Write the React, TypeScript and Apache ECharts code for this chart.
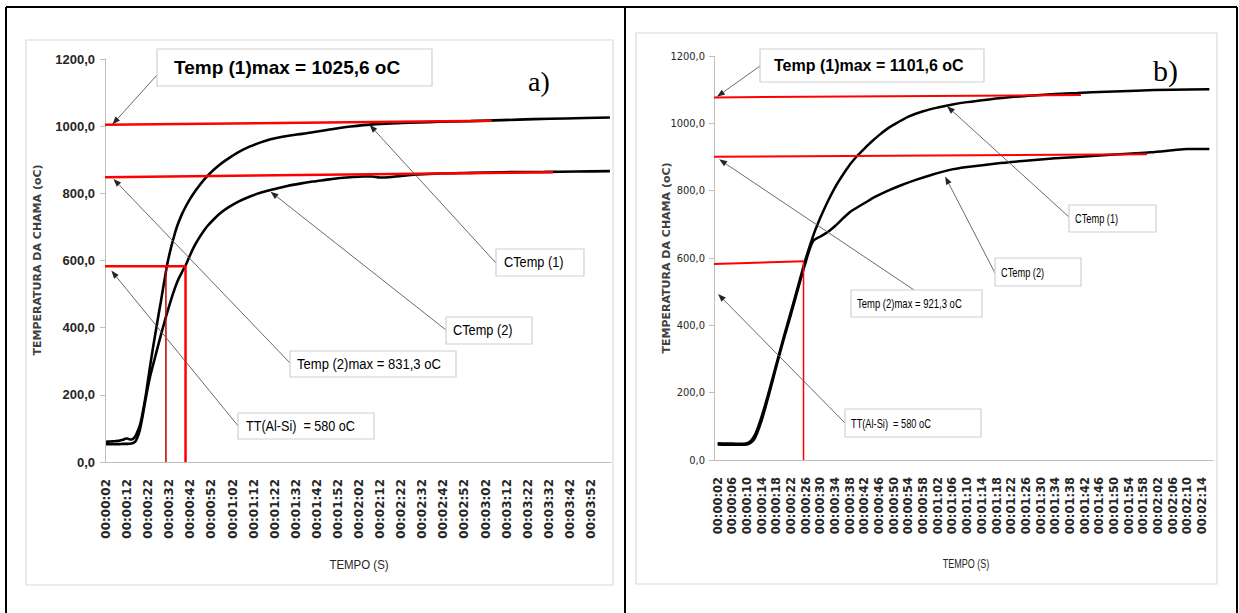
import React, { useEffect, useRef } from "react";
import * as echarts from "echarts";

// ---------- helpers ----------
const fmtTime = (s: number) => {
  const m = Math.floor(s / 60);
  const ss = s % 60;
  return `00:${String(m).padStart(2, "0")}:${String(ss).padStart(2, "0")}`;
};
const buildCats = (start: number, end: number, step: number) => {
  const out: string[] = [];
  for (let t = start; t <= end; t += step) out.push(fmtTime(t));
  return out;
};

// ---------- data : panel a) ----------
const A_CAT_START = 2, A_CAT_END = 241, A_CAT_STEP = 1;
const categoriesA = buildCats(A_CAT_START, A_CAT_END, A_CAT_STEP);

const curve1A_t = [2,4,6,8,10,11,12,13,14,15,16,17,18,19,20,21,22,23,24,25,26,27,28,29,30,31,32,33,34,35,36,38,40,42,44,46,48,50,52,55,58,61,64,67,70,75,80,85,90,95,100,106,112,118,124,130,140,150,160,175,190,205,220,241];
const curve1A_v = [60,61,62,63,66,69,70,68,67,70,78,92,108,135,168,205,248,290,330,368,405,442,478,515,552,588,617,643,666,688,707,738,763,785,804,821,837,851,864,881,895,908,920,930,939,951,961,968,973,977,982,988,994,999,1003,1006,1009,1011,1013,1015,1018,1021,1023,1026];

const curve2A_t = [2,4,6,8,10,12,14,15,16,17,18,19,20,21,22,23,24,26,28,30,32,34,36,38,40,42,44,46,48,50,53,56,60,65,70,76,82,88,94,100,106,112,118,124,128,132,136,142,150,160,175,190,210,225,241];
const curve2A_v = [53,53,53,53,54,54,55,57,62,75,95,125,160,195,228,258,282,330,378,423,466,506,540,565,589,618,644,666,685,702,722,740,758,776,790,803,813,822,829,835,840,845,848,850,850,847,848,852,856,859,861,863,864,865,866];

// red guide lines (time s, temperature)
const redA_max1 = [[1.5, 1004], [185, 1016]];
const redA_max2 = [[1.5, 848], [214, 863]];
const redA_tt = [[1.5, 583], [39.7, 583]];
const redA_v1 = [[30.4, 583], [30.4, 0]];
const redA_v2 = [[39.7, 583], [39.7, 0]];

// ---------- data : panel b) ----------
const B_CAT_START = 2, B_CAT_END = 136, B_CAT_STEP = 2;
const categoriesB = buildCats(B_CAT_START, B_CAT_END, B_CAT_STEP);

const curve1B_t = [2,4,6,8,10,12,14,16,18,20,22,24,26,28,30,32,34,36,38,40,42,44,46,48,50,54,58,62,66,70,76,82,88,94,100,108,116,126,136];
const curve1B_v = [50,49,49,48,50,72,130,205,285,365,442,520,598,665,720,768,810,845,877,903,925,946,965,982,996,1020,1036,1047,1056,1063,1071,1078,1083,1087,1090,1094,1097,1100,1101];

const curve2B_t = [2,4,6,8,10,12,14,16,18,20,22,24,26,28,30,32,34,36,38,40,42,45,48,52,56,60,65,70,78,86,94,104,114,120,126,130,136];
const curve2B_v = [46,45,45,45,46,62,118,195,278,358,433,512,588,650,664,677,695,716,736,750,763,782,798,816,832,846,861,870,881,889,896,903,910,914,920,924,924];

const redB_max1 = [[1, 1077], [101, 1084]];
const redB_max2 = [[1, 901], [119, 908]];
const redB_tt = [[1, 582], [25.4, 590]];
const redB_v = [[25.4, 590], [25.4, 0]];

// y axis ticks
const Y_MIN = 0, Y_MAX = 1200, Y_STEP = 200;
const fmtY = (v: number) => v.toFixed(1).replace(".", ",");

// ---------- texts ----------
const Y_NAME = "TEMPERATURA DA CHAMA (oC)";
const X_NAME = "TEMPO (S)";

const COND = '"DejaVu Sans Condensed", "Liberation Sans Narrow", sans-serif';
const SANS = '"Liberation Sans", Arial, sans-serif';
const VERD = '"DejaVu Sans", Verdana, sans-serif';
const SERIF = '"Liberation Serif", "Times New Roman", serif';

const pairs = (ts: number[], vs: number[]) => ts.map((t, i) => [t, vs[i]]);

export default function App() {
  const ref = useRef<HTMLDivElement>(null);
  useEffect(() => {
    if (!ref.current) return;
    const chart = echarts.init(ref.current, undefined, { renderer: "svg" });

    const catAxis = (grid: number, data: string[], labelInterval: number, size: number) => ({
      type: "category",
      gridIndex: grid,
      data,
      boundaryGap: true,
      axisLine: { lineStyle: { color: "#bfbfbf", width: 1 } },
      axisTick: { interval: 0, length: 4, lineStyle: { color: "#bfbfbf" } },
      axisLabel: {
        interval: labelInterval,
        rotate: 90,
        margin: 17,
        fontFamily: VERD,
        fontWeight: "bold",
        fontSize: size,
        color: "#262626",
      },
      splitLine: { show: false },
    });
    const valAxis = (grid: number, min: number, max: number) => ({
      type: "value",
      gridIndex: grid,
      min,
      max,
      show: false,
      splitLine: { show: false },
    });
    const yAxis = (grid: number, font: string, weight: string, size: number, margin: number) => ({
      type: "value",
      gridIndex: grid,
      min: Y_MIN,
      max: Y_MAX,
      interval: Y_STEP,
      axisLine: { show: true, lineStyle: { color: "#bfbfbf" } },
      axisTick: { show: true, length: 5, lineStyle: { color: "#bfbfbf" } },
      splitLine: { show: false },
      axisLabel: {
        formatter: fmtY,
        fontFamily: font,
        fontWeight: weight,
        fontSize: size,
        color: "#262626",
        margin,
      },
    });

    const blackLine = (xi: number, yi: number, ts: number[], vs: number[], w: number) => ({
      type: "line",
      xAxisIndex: xi,
      yAxisIndex: yi,
      data: pairs(ts, vs),
      smooth: 0.3,
      symbol: "none",
      lineStyle: { color: "#000", width: w },
      z: 3,
      silent: true,
    });
    const redLine = (xi: number, yi: number, d: number[][], color: string, w: number) => ({
      type: "line",
      xAxisIndex: xi,
      yAxisIndex: yi,
      data: d,
      symbol: "none",
      lineStyle: { color, width: w },
      z: 4,
      silent: true,
    });

    const option: any = {
      animation: false,
      backgroundColor: "#fff",
      grid: [
        { left: 105, top: 59, width: 506, height: 403 },
        { left: 714, top: 56, width: 499, height: 404 },
      ],
      xAxis: [
        catAxis(0, categoriesA, 9, 12),
        valAxis(0, A_CAT_START - A_CAT_STEP / 2, A_CAT_END + A_CAT_STEP / 2),
        catAxis(1, categoriesB, 1, 11.5),
        valAxis(1, B_CAT_START - B_CAT_STEP / 2, B_CAT_END + B_CAT_STEP / 2),
      ],
      yAxis: [yAxis(0, SANS, "bold", 13, 10), yAxis(1, COND, "normal", 11, 9)],
      series: [
        blackLine(1, 0, curve1A_t, curve1A_v, 2.6),
        blackLine(1, 0, curve2A_t, curve2A_v, 2.6),
        redLine(1, 0, redA_max1, "#ff0000", 2.5),
        redLine(1, 0, redA_max2, "#ff0000", 2.5),
        redLine(1, 0, redA_tt, "#ff0000", 2.5),
        redLine(1, 0, redA_v1, "#c00000", 1.5),
        redLine(1, 0, redA_v2, "#ff0000", 2.5),
        blackLine(3, 1, curve1B_t, curve1B_v, 2.5),
        blackLine(3, 1, curve2B_t, curve2B_v, 2.5),
        redLine(3, 1, redB_max1, "#ff0000", 2),
        redLine(3, 1, redB_max2, "#ff0000", 2),
        redLine(3, 1, redB_tt, "#ff0000", 2),
        redLine(3, 1, redB_v, "#ff0000", 1.5),
      ],
    };
    chart.setOption(option);

    // ---- annotations (boxes in pixels, arrow tips in data coordinates) ----
    const toPx = (panel: number, t: number, v: number) =>
      chart.convertToPixel(
        panel === 0 ? { xAxisIndex: 1, yAxisIndex: 0 } : { xAxisIndex: 3, yAxisIndex: 1 },
        [t, v]
      ) as number[];

    const g: any[] = [];
    // outer frame
    const BLK = { stroke: "#000", lineWidth: 2 };
    g.push({ type: "line", shape: { x1: 6, y1: 7, x2: 1237, y2: 7 }, style: BLK });
    g.push({ type: "line", shape: { x1: 6, y1: 7, x2: 6, y2: 613 }, style: BLK });
    g.push({ type: "line", shape: { x1: 625, y1: 7, x2: 625, y2: 613 }, style: BLK });
    g.push({ type: "line", shape: { x1: 1237, y1: 7, x2: 1237, y2: 613 }, style: BLK });
    // chart-area frames
    g.push({ type: "rect", shape: { x: 26, y: 40, width: 587, height: 545 }, style: { fill: "none", stroke: "#d9d9d9", lineWidth: 1.2 }, z: -1 });
    g.push({ type: "rect", shape: { x: 636, y: 33, width: 581, height: 551 }, style: { fill: "none", stroke: "#d9d9d9", lineWidth: 1.2 }, z: -1 });

    // axis names
    const yName = (x: number, y: number) => ({
      type: "text", x, y, rotation: Math.PI / 2,
      style: { text: Y_NAME, font: `bold 11px ${VERD}`, fill: "#404040", textAlign: "center", textVerticalAlign: "middle", verticalAlign: "middle" },
    });
    g.push(yName(37, 260));
    g.push(yName(666, 258));
    const xName = (x: number, y: number, size: number, sx: number) => ({
      type: "text", x, y, scaleX: sx,
      style: { text: X_NAME, font: `${size}px ${SANS}`, fill: "#262626", textAlign: "center", textVerticalAlign: "middle", verticalAlign: "middle" },
    });
    g.push(xName(359, 565, 13.5, 0.85));
    g.push(xName(966, 563, 12.5, 0.72));

    // panel letters
    g.push({ type: "text", x: 528, y: 81, style: { text: "a)", font: `28px ${SERIF}`, fill: "#000", textVerticalAlign: "middle", verticalAlign: "middle" } });
    g.push({ type: "text", x: 1153, y: 70, style: { text: "b)", font: `30px ${SERIF}`, fill: "#000", textVerticalAlign: "middle", verticalAlign: "middle" } });

    // boxes
    const box = (x: number, y: number, w: number, h: number, text: string, tx: number, font: string, sx: number) => {
      g.push({ type: "rect", shape: { x, y, width: w, height: h }, style: { fill: "#fff", stroke: "#d0d0d0", lineWidth: 1.2 }, z: 20 });
      g.push({ type: "text", x: tx, y: y + h / 2, scaleX: sx, z: 21, style: { text, font, fill: "#000", textVerticalAlign: "middle", verticalAlign: "middle" } });
    };
    box(157, 49, 275, 37, "Temp (1)max = 1025,6 oC", 174, `bold 19px ${SANS}`, 1);
    box(496, 249, 88, 27, "CTemp (1)", 504, `14.5px ${SANS}`, 0.88);
    box(446, 317, 86, 27, "CTemp (2)", 453, `14.5px ${SANS}`, 0.88);
    box(290, 351, 166, 26, "Temp (2)max = 831,3 oC", 297, `14.5px ${SANS}`, 0.9);
    box(238, 413, 136, 26, "TT(Al-Si)  = 580 oC", 246, `14.5px ${SANS}`, 0.87);

    box(760, 49, 224, 33, "Temp (1)max = 1101,6 oC", 774, `bold 16px ${SANS}`, 1);
    box(1069, 205, 87, 27, "CTemp (1)", 1075, `12.5px ${SANS}`, 0.74);
    box(995, 258, 86, 28, "CTemp (2)", 1001, `12.5px ${SANS}`, 0.74);
    box(851, 290, 131, 27, "Temp (2)max = 921,3 oC", 857, `12.5px ${SANS}`, 0.76);
    box(845, 409, 136, 28, "TT(Al-Si)  = 580 oC", 851, `12.5px ${SANS}`, 0.74);

    // arrows: [panel, startX, startY, tipT, tipV]
    const arrows: [number, number, number, number, number][] = [
      [0, 157, 75, 5, 1005],
      [0, 290, 363, 5.5, 843],
      [0, 239, 427, 4.5, 570],
      [0, 496, 263, 127, 1004],
      [0, 446, 330, 80, 805],
      [1, 760, 66, 1.8, 1079],
      [1, 1069, 217, 64.5, 1051],
      [1, 995, 273, 64, 842],
      [1, 914, 290, 2.4, 893],
      [1, 845, 423, 2.1, 493],
    ];
    arrows.forEach(([p, sx, sy, tt, tv]) => {
      const [ex, ey] = toPx(p, tt, tv);
      const dx = ex - sx, dy = ey - sy;
      const len = Math.hypot(dx, dy) || 1;
      const ux = dx / len, uy = dy / len;
      const L = 8, W = 3;
      const bx = ex - ux * L, by = ey - uy * L;
      g.push({ type: "line", z: 15, shape: { x1: sx, y1: sy, x2: bx, y2: by }, style: { stroke: "#595959", lineWidth: 0.9 } });
      g.push({
        type: "polygon", z: 15,
        shape: { points: [[ex, ey], [bx - uy * W, by + ux * W], [bx + uy * W, by - ux * W]] },
        style: { fill: "#262626" },
      });
    });

    chart.setOption({ graphic: g });
    return () => chart.dispose();
  }, []);

  return (
    <div
      ref={ref}
      style={{ position: "fixed", left: 0, top: 0, width: 1239, height: 613, background: "#fff" }}
    />
  );
}
